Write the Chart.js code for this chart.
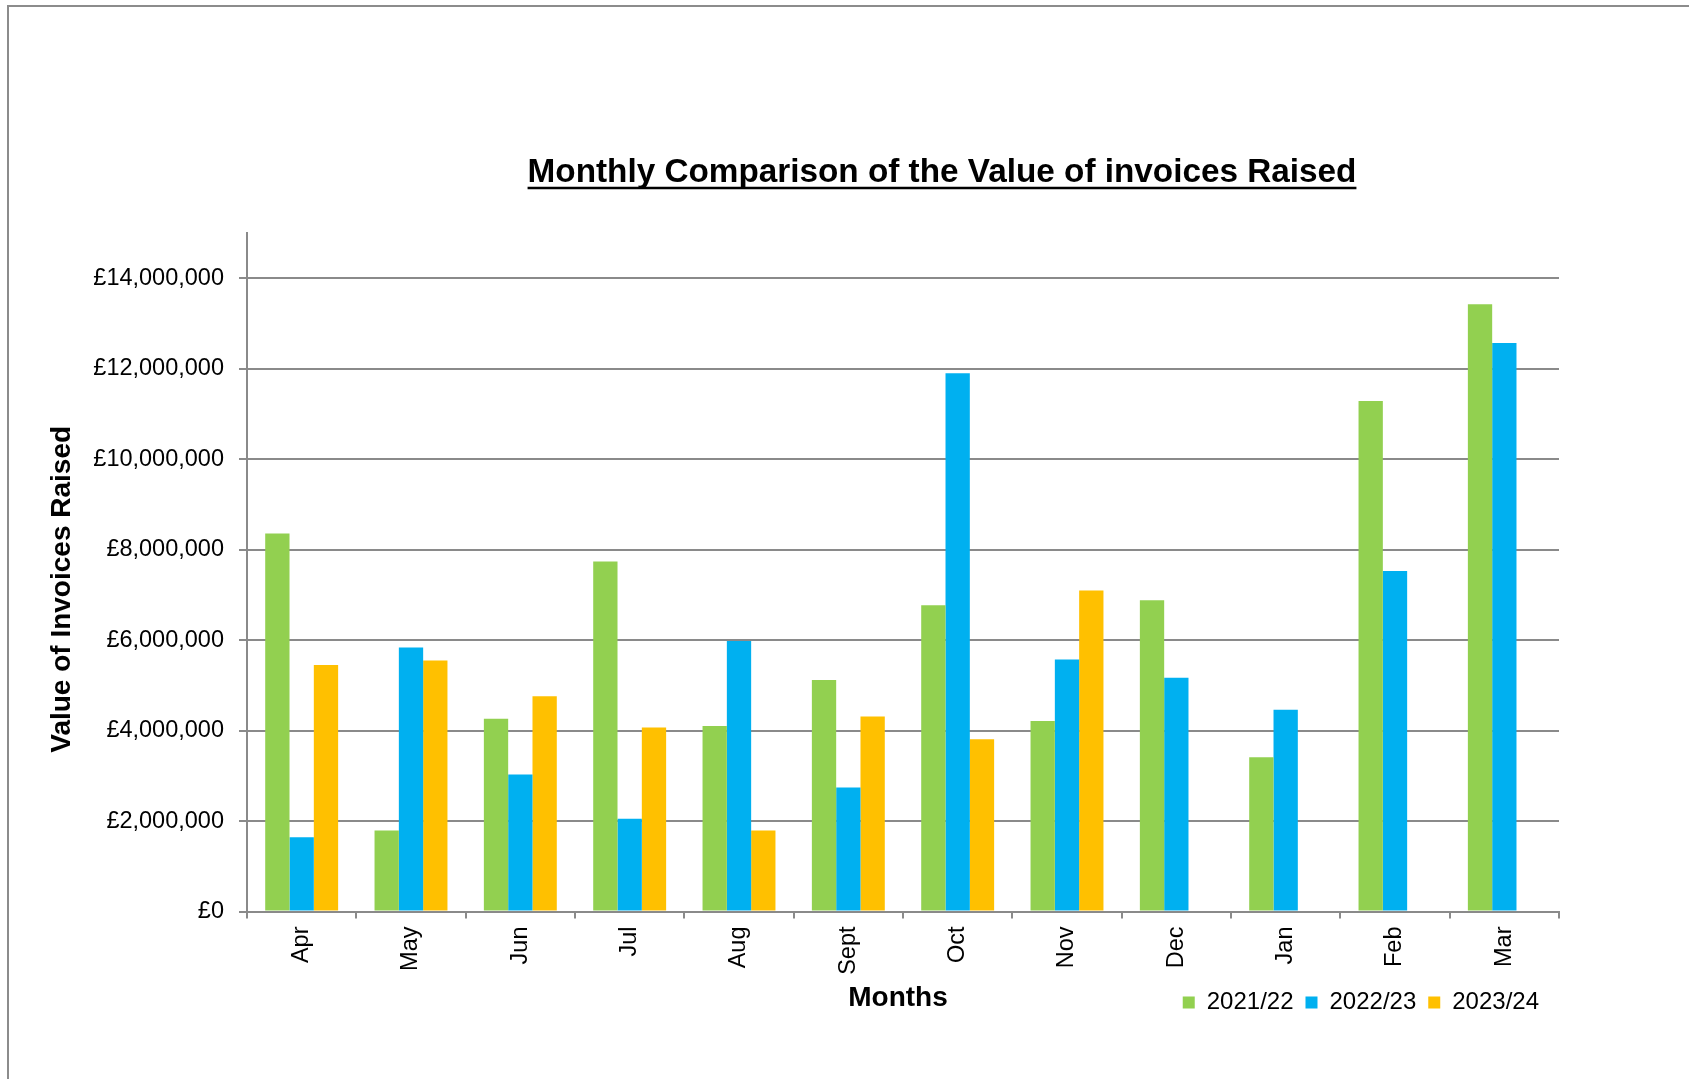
<!DOCTYPE html>
<html>
<head>
<meta charset="utf-8">
<script src="https://cdn.jsdelivr.net/npm/chart.js@4"></script>
<style>
  html, body { margin: 0; padding: 0; background: #ffffff; }
  #wrap { width: 1689px; height: 1079px; }
</style>
</head>
<body>
<div id="wrap"><canvas id="c" width="1689" height="1079"></canvas></div>
<script>
const chartTitle = 'Monthly Comparison of the Value of invoices Raised';
const xTitle = 'Months';
const yTitle = 'Value of Invoices Raised';
const months = ['Apr', 'May', 'Jun', 'Jul', 'Aug', 'Sept', 'Oct', 'Nov', 'Dec', 'Jan', 'Feb', 'Mar'];
const seriesNames = ['2021/22', '2022/23', '2023/24'];
const values2122 = [8360000, 1790000, 4260000, 7740000, 4100000, 5120000, 6770000, 4210000, 6880000, 3410000, 11290000, 13430000];
const values2223 = [1640000, 5840000, 3030000, 2050000, 5980000, 2740000, 11900000, 5570000, 5170000, 4460000, 7530000, 12570000];
const values2324 = [5450000, 5550000, 4760000, 4070000, 1790000, 4310000, 3810000, 7100000, null, null, null, null];
const yTickValues = [0, 2000000, 4000000, 6000000, 8000000, 10000000, 12000000, 14000000];
const yMin = 0;
const yMax = 15000000;

const FONT = '"Liberation Sans", Arial, sans-serif';
const GRID = '#8a8a8a';

const layoutPlugin = {
  id: 'layoutTweaks',
  beforeDraw(chart) {
    const ctx = chart.ctx;
    ctx.save();
    ctx.fillStyle = '#ffffff';
    ctx.fillRect(0, 0, chart.width, chart.height);
    ctx.strokeStyle = '#8c8c8c';
    ctx.lineWidth = 2;
    ctx.strokeRect(8, 6, 1700, 1100);
    ctx.restore();
  },
  afterLayout(chart) {
    const tb = chart.titleBlock;
    if (tb) {
      const d = 942 - (tb.left + tb.right) / 2;
      tb.left += d; tb.right += d;
    }
    const lg = chart.legend;
    if (lg) {
      const pad = lg.options.labels.padding;
      const h = lg.height;
      lg.top = 1002.5 - pad - 12;
      lg.bottom = lg.top + h;
      const w = lg.width;
      lg.right = 1539 + pad;
      lg.left = lg.right - w;
    }
    const ys = chart.scales.y;
    if (ys && !ys._shiftPatched) {
      const orig = ys.drawTitle;
      ys.drawTitle = function () {
        const c = this.ctx; c.save(); c.translate(0, 17); orig.apply(this, arguments); c.restore();
      };
      ys._shiftPatched = true;
    }
    const xs = chart.scales.x;
    if (xs && !xs._shiftPatched) {
      const origX = xs.drawTitle;
      xs.drawTitle = function () {
        const c = this.ctx; c.save(); c.translate(-5, 0); origX.apply(this, arguments); c.restore();
      };
      xs._shiftPatched = true;
    }
  },
  afterDraw(chart) {
    const tb = chart.titleBlock;
    if (!tb) return;
    const ctx = chart.ctx;
    ctx.save();
    ctx.font = 'bold 33.3px ' + FONT;
    const w = ctx.measureText(chartTitle).width;
    const cx = (tb.left + tb.right) / 2;
    ctx.strokeStyle = '#000000';
    ctx.lineWidth = 2.5;
    ctx.beginPath();
    ctx.moveTo(cx - w / 2, 188);
    ctx.lineTo(cx + w / 2, 188);
    ctx.stroke();
    ctx.restore();
  }
};

new Chart(document.getElementById('c'), {
  type: 'bar',
  data: {
    labels: months,
    datasets: [
      { label: seriesNames[0], data: values2122, backgroundColor: '#92D050', borderWidth: 0 },
      { label: seriesNames[1], data: values2223, backgroundColor: '#00B0F0', borderWidth: 0 },
      { label: seriesNames[2], data: values2324, backgroundColor: '#FFC000', borderWidth: 0 }
    ]
  },
  options: {
    responsive: false,
    devicePixelRatio: 1,
    animation: false,
    events: [],
    layout: { padding: { left: 10, right: 130, top: 0, bottom: 0 } },
    datasets: { bar: { categoryPercentage: 0.667, barPercentage: 1.0 } },
    plugins: {
      tooltip: { enabled: false },
      title: {
        display: true,
        text: chartTitle,
        color: '#000000',
        font: { family: FONT, size: 33.3, weight: 'bold' },
        padding: { top: 153, bottom: 40.2 }
      },
      legend: {
        display: true,
        position: 'bottom',
        align: 'end',
        labels: {
          color: '#000000',
          font: { family: FONT, size: 24 },
          boxWidth: 12,
          boxHeight: 12,
          padding: 12
        }
      }
    },
    scales: {
      x: {
        offset: true,
        grid: { display: true, drawOnChartArea: false, drawTicks: true, tickLength: 7, color: GRID, lineWidth: 2, offset: true },
        border: { display: true, color: GRID, width: 2 },
        ticks: { autoSkip: false, minRotation: 90, maxRotation: 90, padding: 8, color: '#000000', font: { family: FONT, size: 23.5 } },
        title: { display: true, text: xTitle, color: '#000000', font: { family: FONT, size: 28, weight: 'bold' }, padding: { top: 0, bottom: 18.2 } },
        afterFit(scale) {
          const lh = scale.chart.legend ? scale.chart.legend.height : 46;
          scale.height = 1079 - lh - 911.5;
        }
      },
      y: {
        min: yMin,
        max: yMax,
        grid: { color: GRID, lineWidth: 2, tickLength: 8, drawTicks: true },
        border: { display: true, color: GRID, width: 2 },
        ticks: {
          padding: 15,
          color: '#000000',
          font: { family: FONT, size: 23.5 },
          callback: (v) => '£' + Number(v).toLocaleString('en-GB')
        },
        afterBuildTicks(scale) {
          scale.ticks = yTickValues.map(v => ({ value: v }));
        },
        title: { display: true, text: yTitle, color: '#000000', font: { family: FONT, size: 28, weight: 'bold' }, padding: { top: 35.2, bottom: 0 } },
        afterFit(scale) { scale.width = 237; }
      }
    }
  },
  plugins: [layoutPlugin]
});
</script>
</body>
</html>
